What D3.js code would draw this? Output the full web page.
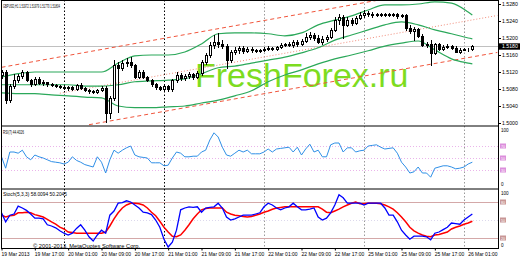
<!DOCTYPE html>
<html>
<head>
<meta charset="utf-8">
<script src="https://cdn.jsdelivr.net/npm/d3@7"></script>
<style>
  body { margin: 0; background: #fff; }
  svg { display: block; font-family: "Liberation Sans", Arial, sans-serif; }
</style>
</head>
<body>
<svg id="chart" width="520" height="260"></svg>
<script>
// GBPUSD H1, 19 Mar 2013 09:00 .. 26 Mar 2013 01:00 (one value per hourly bar)
const timeLabels = ["19 Mar 2013", "19 Mar 17:00", "20 Mar 01:00", "20 Mar 09:00", "20 Mar 17:00",
  "21 Mar 01:00", "21 Mar 09:00", "21 Mar 17:00", "22 Mar 01:00", "22 Mar 09:00", "22 Mar 17:00",
  "25 Mar 01:00", "25 Mar 09:00", "25 Mar 17:00", "26 Mar 01:00"];
const labelBars = [0, 8, 16, 24, 32, 40, 48, 56, 64, 72, 80, 88, 96, 104, 112];
const daySeparators = [15, 39, 63, 87, 111];
const priceTicks = [1.5280, 1.5240, 1.5200, 1.5160, 1.5120, 1.5080, 1.5040, 1.5000];
const bidPrice = 1.5180;

const openP = [
  1.5113,1.5120,1.5054,1.5087,1.5101,1.5111,1.5120,1.5101,1.5092,1.5104,
  1.5094,1.5097,1.5092,1.5090,1.5087,1.5085,1.5083,1.5085,1.5080,1.5090,
  1.5083,1.5078,1.5076,1.5073,1.5078,1.5083,1.5024,1.5059,1.5137,1.5130,
  1.5141,1.5144,1.5137,1.5108,1.5120,1.5108,1.5101,1.5092,1.5085,1.5080,
  1.5087,1.5080,1.5101,1.5113,1.5106,1.5111,1.5116,1.5108,1.5118,1.5144,
  1.5160,1.5184,1.5191,1.5186,1.5181,1.5148,1.5167,1.5172,1.5177,1.5170,
  1.5174,1.5172,1.5170,1.5172,1.5174,1.5177,1.5174,1.5179,1.5184,1.5186,
  1.5184,1.5191,1.5186,1.5193,1.5202,1.5207,1.5200,1.5191,1.5198,1.5202,
  1.5219,1.5242,1.5249,1.5231,1.5242,1.5235,1.5247,1.5254,1.5259,1.5257,
  1.5254,1.5257,1.5254,1.5257,1.5254,1.5257,1.5252,1.5254,1.5224,1.5217,
  1.5221,1.5205,1.5184,1.5186,1.5165,1.5186,1.5174,1.5179,1.5181,1.5177,
  1.5167,1.5172,1.5174,1.5174];
const highP = [
  1.5125,1.5125,1.5092,1.5116,1.5116,1.5125,1.5123,1.5104,1.5108,1.5108,
  1.5101,1.5097,1.5094,1.5092,1.5090,1.5090,1.5087,1.5087,1.5092,1.5094,
  1.5085,1.5080,1.5078,1.5080,1.5087,1.5087,1.5064,1.5148,1.5144,1.5148,
  1.5153,1.5155,1.5139,1.5125,1.5125,1.5111,1.5104,1.5094,1.5087,1.5090,
  1.5090,1.5104,1.5120,1.5118,1.5116,1.5120,1.5118,1.5123,1.5148,1.5165,
  1.5191,1.5207,1.5212,1.5195,1.5186,1.5172,1.5179,1.5181,1.5181,1.5179,
  1.5179,1.5174,1.5174,1.5179,1.5181,1.5179,1.5181,1.5188,1.5188,1.5191,
  1.5195,1.5195,1.5198,1.5212,1.5214,1.5212,1.5207,1.5205,1.5207,1.5224,
  1.5249,1.5257,1.5254,1.5249,1.5247,1.5252,1.5261,1.5266,1.5264,1.5261,
  1.5259,1.5259,1.5259,1.5259,1.5259,1.5259,1.5257,1.5257,1.5231,1.5226,
  1.5224,1.5210,1.5191,1.5195,1.5188,1.5188,1.5184,1.5186,1.5184,1.5181,
  1.5177,1.5177,1.5177,1.5184];
const lowP = [
  1.5106,1.5047,1.5050,1.5083,1.5097,1.5106,1.5099,1.5087,1.5090,1.5092,
  1.5090,1.5087,1.5087,1.5085,1.5083,1.5080,1.5078,1.5078,1.5078,1.5080,
  1.5076,1.5071,1.5071,1.5071,1.5076,1.5003,1.5012,1.5054,1.5026,1.5125,
  1.5134,1.5132,1.5106,1.5106,1.5106,1.5099,1.5087,1.5080,1.5078,1.5076,
  1.5076,1.5076,1.5097,1.5101,1.5101,1.5106,1.5104,1.5106,1.5113,1.5139,
  1.5155,1.5177,1.5179,1.5177,1.5130,1.5144,1.5163,1.5165,1.5165,1.5167,
  1.5167,1.5167,1.5167,1.5170,1.5172,1.5172,1.5172,1.5177,1.5181,1.5181,
  1.5179,1.5181,1.5184,1.5191,1.5198,1.5195,1.5188,1.5186,1.5193,1.5200,
  1.5217,1.5233,1.5200,1.5228,1.5231,1.5233,1.5245,1.5249,1.5252,1.5249,
  1.5252,1.5252,1.5252,1.5252,1.5252,1.5247,1.5249,1.5219,1.5212,1.5195,
  1.5202,1.5181,1.5179,1.5137,1.5163,1.5172,1.5172,1.5177,1.5174,1.5167,
  1.5165,1.5172,1.5170,1.5172];
const closeP = [
  1.5120,1.5054,1.5087,1.5101,1.5111,1.5120,1.5101,1.5092,1.5104,1.5094,
  1.5097,1.5092,1.5090,1.5087,1.5085,1.5083,1.5085,1.5080,1.5090,1.5083,
  1.5078,1.5076,1.5073,1.5078,1.5083,1.5024,1.5059,1.5137,1.5130,1.5141,
  1.5144,1.5137,1.5108,1.5120,1.5108,1.5101,1.5092,1.5085,1.5080,1.5087,
  1.5080,1.5101,1.5113,1.5106,1.5111,1.5116,1.5108,1.5118,1.5144,1.5160,
  1.5184,1.5191,1.5186,1.5181,1.5148,1.5167,1.5172,1.5177,1.5170,1.5174,
  1.5172,1.5170,1.5172,1.5174,1.5177,1.5174,1.5179,1.5184,1.5186,1.5184,
  1.5191,1.5186,1.5193,1.5202,1.5207,1.5200,1.5191,1.5198,1.5202,1.5219,
  1.5242,1.5249,1.5231,1.5242,1.5235,1.5247,1.5254,1.5259,1.5257,1.5254,
  1.5257,1.5254,1.5257,1.5254,1.5257,1.5252,1.5254,1.5224,1.5217,1.5221,
  1.5205,1.5184,1.5186,1.5165,1.5186,1.5174,1.5179,1.5181,1.5177,1.5167,
  1.5172,1.5174,1.5174,1.5180];

// Bollinger bands, read every 4th bar
const bandBars = [0,4,8,12,16,20,24,28,32,36,40,44,48,52,56,60,64,68,72,76,80,84,88,92,96,100,104,108,112,113];
const bbUpper = [1.5108,1.5116,1.5120,1.5120,1.5120,1.5120,1.5120,1.5141,1.5158,1.5160,1.5160,1.5167,1.5186,1.5210,1.5212,
  1.5212,1.5210,1.5205,1.5212,1.5231,1.5242,1.5252,1.5266,1.5278,1.5278,1.5280,1.5285,1.5282,1.5261,1.5254];
const bbMiddle = [1.5090,1.5090,1.5090,1.5090,1.5090,1.5087,1.5087,1.5090,1.5097,1.5099,1.5101,1.5104,1.5116,1.5130,1.5134,
  1.5141,1.5148,1.5155,1.5165,1.5177,1.5195,1.5207,1.5219,1.5231,1.5238,1.5231,1.5219,1.5210,1.5200,1.5198];
const bbLower = [1.5071,1.5069,1.5069,1.5066,1.5064,1.5061,1.5059,1.5040,1.5036,1.5036,1.5038,1.5040,1.5047,1.5054,1.5064,
  1.5076,1.5097,1.5113,1.5125,1.5139,1.5151,1.5160,1.5170,1.5181,1.5188,1.5193,1.5172,1.5151,1.5141,1.5139];

// trend channel: [bar, price] end points
const chanUpper = [[0, 1.5131], [119, 1.5339]];
const chanMiddle = [[14, 1.5070], [119, 1.5253]];
const chanLower = [[21, 1.4996], [119, 1.5166]];

const rsiVals = [
  52,33,60,60,58,63,52,47,55,52, 50,47,44,43,42,40,43,52,46,43,
  39,37,35,52,43,25,47,63,58,63, 67,70,55,52,51,50,42,42,42,37,
  38,50,60,58,52,52,53,53,60,63, 80,92,85,68,55,53,58,63,60,63,
  57,57,57,60,65,60,65,66,67,68, 60,68,55,65,73,60,63,52,52,72,
  75,75,60,67,67,60,62,63,70,71, 72,68,65,66,67,58,43,35,25,27,
  35,25,25,18,33,35,37,37,35,32, 33,35,40,43];
const rsiLevels = [70, 50, 30];

const stochMain = [
  62,47,58,60,73,70,66,60,53,53, 52,42,40,37,32,28,25,28,36,42,
  33,22,15,25,33,28,58,65,78,79, 82,80,75,70,63,62,59,50,38,18,
  5,13,33,67,70,72,71,72,63,70, 71,72,78,70,55,50,52,55,58,58,
  58,60,62,72,78,75,70,67,70,72, 78,72,67,67,68,70,55,50,53,62,
  75,92,87,78,78,78,78,75,78,78, 78,78,70,58,58,47,33,25,18,23,
  23,23,22,17,28,30,34,38,45,44, 43,50,55,60];
const stochSignal = [
  58,55,57,58,62,62,63,62,59,57, 55,51,47,43,38,35,30,29,28,28,
  28,28,28,28,28,30,40,52,62,70, 75,78,78,77,75,70,63,57,48,38,
  30,23,22,25,33,42,52,60,67,69, 70,70,70,70,63,60,58,57,56,55,
  56,58,60,63,65,68,70,71,72,72, 72,72,72,72,72,72,72,68,63,62,
  65,68,72,75,78,80,77,77,78,78, 78,77,75,72,68,62,55,47,38,32,
  28,25,23,22,25,26,28,30,35,38, 40,43,45,48];
const stochLevels = [80, 50, 20];

const svg = d3.select("#chart");
const plotL = 2, plotR = 498;
const mainBot = 126, rsiBot = 189, stochBot = 248.5;

const x = d3.scaleLinear().domain([0, 24]).range([1.5, 101.5]);
const yP = d3.scaleLinear().domain([1.5000, 1.5280]).range([123, 4]);
const yR = d3.scaleLinear().domain([0, 100]).range([188, 128]);
const yS = d3.scaleLinear().domain([0, 100]).range([250, 190]);
const fmt4 = d3.format(".4f");

svg.append("rect").attr("width", 520).attr("height", 260).attr("fill", "#fff");

const defs = svg.append("defs");
function clip(id, y0, y1) {
  defs.append("clipPath").attr("id", id).append("rect")
    .attr("x", plotL).attr("y", y0).attr("width", plotR - plotL).attr("height", y1 - y0);
}
clip("cMain", 0.5, mainBot);
clip("cRsi", mainBot + 0.5, rsiBot);
clip("cStoch", rsiBot + 0.5, stochBot);

// watermark
svg.append("text")
  .attr("x", 195).attr("y", 87)
  .attr("font-size", 34).attr("fill", "#7ddc1f")
  .text("FreshForex.ru");

// day separators through all panels
svg.append("g").selectAll("line").data(daySeparators).join("line")
  .attr("x1", d => Math.round(x(d)) + 0.5).attr("x2", d => Math.round(x(d)) + 0.5)
  .attr("y1", 0).attr("y2", stochBot)
  .attr("stroke", (d, i) => i < 2 ? "#000" : "#9a9a9a")
  .attr("stroke-width", 1)
  .attr("stroke-dasharray", "1.5,2");

// ---- main panel
const main = svg.append("g").attr("clip-path", "url(#cMain)");

main.append("line")
  .attr("x1", plotL).attr("x2", plotR)
  .attr("y1", Math.round(yP(bidPrice)) + 0.5).attr("y2", Math.round(yP(bidPrice)) + 0.5)
  .attr("stroke", "#c0c0c0");

const segLine = d3.line().x(d => x(d[0])).y(d => yP(d[1]));
main.append("path").attr("d", segLine(chanUpper))
  .attr("stroke", "#f0553c").attr("stroke-width", 1).attr("stroke-dasharray", "4,3").attr("fill", "none");
main.append("path").attr("d", segLine(chanLower))
  .attr("stroke", "#f0553c").attr("stroke-width", 1).attr("stroke-dasharray", "4,3").attr("fill", "none");
main.append("path").attr("d", segLine(chanMiddle))
  .attr("stroke", "#f08a78").attr("stroke-width", 1).attr("stroke-dasharray", "1,2").attr("fill", "none");

const bandLine = d3.line().x((d, k) => x(bandBars[k])).y(d => yP(d)).curve(d3.curveMonotoneX);
[bbUpper, bbMiddle, bbLower].forEach(s => {
  main.append("path").attr("d", bandLine(s))
    .attr("fill", "none").attr("stroke", "#2ba85a").attr("stroke-width", 1.2);
});

const bars = openP.map((o, i) => ({ i, o, h: highP[i], l: lowP[i], c: closeP[i] }));
const cx = d => Math.round(x(d.i));
main.selectAll("line.wick").data(bars).join("line").attr("class", "wick")
  .attr("x1", d => cx(d) + 0.5).attr("x2", d => cx(d) + 0.5)
  .attr("y1", d => Math.round(yP(d.h))).attr("y2", d => Math.round(yP(d.l)) + 1)
  .attr("stroke", "#000");
main.selectAll("rect.body").data(bars).join("rect").attr("class", "body")
  .attr("x", d => cx(d) - 0.5)
  .attr("width", 2)
  .attr("y", d => Math.round(yP(Math.max(d.o, d.c))) + 0.5)
  .attr("height", d => Math.max(0, Math.round(yP(Math.min(d.o, d.c))) - Math.round(yP(Math.max(d.o, d.c)))))
  .attr("fill", d => d.c >= d.o ? "#fff" : "#000")
  .attr("stroke", "#000").attr("stroke-width", 1);

// ---- RSI panel
const rsiG = svg.append("g").attr("clip-path", "url(#cRsi)");
rsiG.selectAll("line").data(rsiLevels).join("line")
  .attr("x1", plotL).attr("x2", plotR)
  .attr("y1", d => Math.round(yR(d)) + 0.5).attr("y2", d => Math.round(yR(d)) + 0.5)
  .attr("stroke", "#eab4ea").attr("stroke-dasharray", "1,2");
rsiG.append("path")
  .attr("d", d3.line().x((d, i) => x(i)).y(d => yR(d))(rsiVals))
  .attr("fill", "none").attr("stroke", "#2f8fe6").attr("stroke-width", 1);

// ---- Stochastic panel
const stG = svg.append("g").attr("clip-path", "url(#cStoch)");
stG.selectAll("line").data(stochLevels).join("line")
  .attr("x1", plotL).attr("x2", plotR)
  .attr("y1", d => Math.round(yS(d)) + 0.5).attr("y2", d => Math.round(yS(d)) + 0.5)
  .attr("stroke", d => d === 50 ? "#dcd8ec" : "#d4a8a8")
  .attr("stroke-dasharray", d => d === 50 ? "1,2" : null);
const stLine = d3.line().x((d, i) => x(i)).y(d => yS(d));
stG.append("path").attr("d", stLine(stochSignal))
  .attr("fill", "none").attr("stroke", "#ff0000").attr("stroke-width", 1.5);
stG.append("path").attr("d", stLine(stochMain))
  .attr("fill", "none").attr("stroke", "#0000ff").attr("stroke-width", 1.3);

// ---- frame
const frame = svg.append("g").attr("stroke", "#000").attr("stroke-width", 1);
frame.append("line").attr("x1", plotL - 0.5).attr("x2", plotL - 0.5).attr("y1", 0).attr("y2", stochBot);
frame.append("line").attr("x1", plotR + 0.5).attr("x2", plotR + 0.5).attr("y1", 0).attr("y2", stochBot);
[0.5, mainBot, rsiBot, stochBot].forEach(y => {
  frame.append("line").attr("x1", plotL - 1).attr("x2", plotR + 1).attr("y1", y).attr("y2", y);
});

// ---- price axis
const pAxis = svg.append("g").attr("transform", `translate(${plotR + 1},0)`)
  .call(d3.axisRight(yP).tickValues(priceTicks).tickSize(2).tickPadding(1).tickFormat(fmt4));
pAxis.select(".domain").remove();
pAxis.attr("font-size", null).attr("font-family", null);
pAxis.selectAll("text").attr("font-size", 5.2).attr("fill", "#000");

const bidG = svg.append("g").attr("transform", `translate(${plotR + 1},${yP(bidPrice)})`);
bidG.append("rect").attr("x", 0).attr("y", -3.2).attr("width", 21).attr("height", 6.4).attr("fill", "#000");
bidG.append("text").attr("x", 3).attr("y", 1.9).attr("font-size", 5.2).attr("fill", "#fff").text(fmt4(bidPrice));

// level tags on the right
function levelTags(levels, scale, col) {
  const g = svg.append("g").selectAll("g").data(levels).join("g")
    .attr("transform", d => `translate(${plotR + 2},${scale(d)})`);
  g.append("rect").attr("x", 0).attr("y", -2.5).attr("width", 6).attr("height", 5).attr("fill", col);
  g.append("text").attr("x", 3).attr("y", 1.5).attr("text-anchor", "middle")
    .attr("font-size", 3.6).attr("fill", "#fff").text(d => d);
}
levelTags(rsiLevels, yR, "#dc8edc");
levelTags(stochLevels, yS, "#c89696");

const smallLbl = [[yR(100) + 3.5, "100"], [yR(0) - 2, "0"], [yS(100) + 5, "100"], [stochBot - 1.5, "0"]];
svg.append("g").selectAll("text").data(smallLbl).join("text")
  .attr("x", plotR + 3).attr("y", d => d[0]).attr("font-size", 4.6).text(d => d[1]);

// ---- time axis
const tAxis = svg.append("g").attr("transform", `translate(0,${stochBot})`)
  .call(d3.axisBottom(x).tickValues(labelBars).tickSize(2).tickPadding(2).tickFormat((d, k) => timeLabels[k]));
tAxis.select(".domain").remove();
tAxis.attr("font-size", null).attr("font-family", null);
tAxis.selectAll("text").attr("font-size", 5).attr("text-anchor", "start").attr("dx", -0.5).attr("fill", "#000");

// ---- captions
const caps = [
  [3, 7.5, 57, "GBPUSD,H1  1.51972 1.51979 1.51770 1.51804"],
  [3, 133.5, 21, "RSI(7) 44.4026"],
  [3, 196, 64, "Stoch(5,3,3) 58.0094 50.2045"],
  [33, 248, 107, "\u00a9 2001-2013, MetaQuotes Software Corp."]
];
svg.append("g").selectAll("text").data(caps).join("text")
  .attr("x", d => d[0]).attr("y", d => d[1])
  .attr("textLength", d => d[2]).attr("lengthAdjust", "spacingAndGlyphs")
  .attr("font-size", 5).attr("fill", "#000")
  .text(d => d[3]);
</script>
</body>
</html>
